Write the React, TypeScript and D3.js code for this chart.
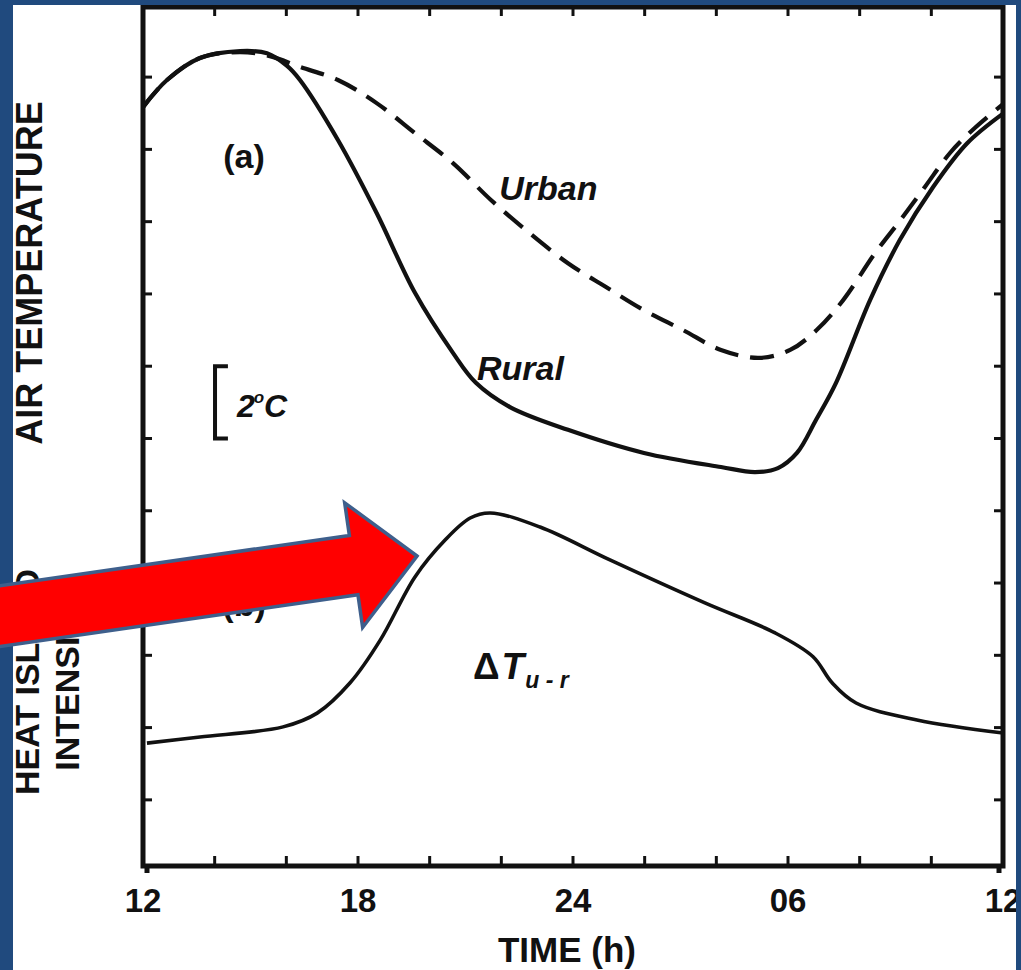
import { useEffect, useRef } from 'react'
import * as d3 from 'd3'

const WIDTH = 1021
const HEIGHT = 970
const BORDER_BLUE = '#204a7e'
const INK = '#111'
const FONT = '"Liberation Sans", Arial, Helvetica, sans-serif'

// plot frame in pixels
const LEFT = 143
const RIGHT = 1003
const TOP = 7
const BOTTOM = 866

// time runs from noon (12) to noon next day (36)
const ruralHours = [12, 12.67, 13.59, 14.71, 15.46, 16.02, 16.38, 17.44, 18.52, 19.59, 20.65, 21.29, 22.24, 23.86, 25.98, 28.13, 29.08, 29.72, 30.25, 30.78, 31.34, 32.29, 33.12, 34.05, 35.0, 36]
const ruralTemps = [19.17, 19.92, 20.53, 20.72, 20.66, 20.31, 19.92, 18.26, 16.24, 14.03, 12.37, 11.54, 10.87, 10.24, 9.6, 9.21, 9.07, 9.18, 9.6, 10.51, 11.54, 13.83, 15.49, 16.96, 18.17, 18.99]

const urbanHours = [12, 12.67, 13.59, 14.7, 15.54, 16.38, 17.44, 18.52, 19.59, 20.65, 21.71, 22.79, 23.86, 24.92, 25.98, 27.07, 28.13, 29.19, 30.06, 30.8, 31.54, 32.43, 33.12, 33.82, 34.52, 35.22, 36]
const urbanTemps = [19.17, 19.92, 20.53, 20.69, 20.58, 20.28, 19.92, 19.28, 18.45, 17.62, 16.6, 15.68, 14.85, 14.19, 13.55, 13.0, 12.45, 12.23, 12.45, 13.0, 13.83, 15.13, 16.02, 16.96, 17.9, 18.6, 19.25]

// heat island intensity, drawn on the same vertical scale
const deltaHours = [12.11, 13.59, 15.91, 16.86, 17.78, 18.62, 19.59, 20.43, 21.13, 21.69, 23.08, 25.03, 27.68, 29.64, 30.7, 31.23, 31.9, 33.6, 36]
const deltaValues = [1.57, 1.74, 2.02, 2.4, 3.24, 4.42, 6.17, 7.19, 7.8, 7.94, 7.55, 6.64, 5.45, 4.62, 3.96, 3.24, 2.68, 2.21, 1.85]

const xTickHours = [12, 14, 16, 18, 20, 22, 24, 26, 28, 30, 32, 34, 36]
const xLabelHours = [12, 18, 24, 30, 36]
const xLabels = ['12', '18', '24', '06', '12']
const yTicks = [0, 2, 4, 6, 8, 10, 12, 14, 16, 18, 20]

function App() {
  const svgRef = useRef<SVGSVGElement | null>(null)

  useEffect(() => {
    if (!svgRef.current) return
    const svg = d3.select(svgRef.current)
    svg.selectAll('*').remove()

    const x = d3.scaleLinear().domain([12, 36]).range([LEFT, RIGHT])
    const y = d3.scaleLinear().domain([-1.83, 21.94]).range([BOTTOM, TOP])

    svg.append('rect').attr('width', WIDTH).attr('height', HEIGHT).attr('fill', '#fff')

    const line = d3.line<[number, number]>()
      .x(d => x(d[0]))
      .y(d => y(d[1]))
      .curve(d3.curveCatmullRom.alpha(0.5))

    const zip = (hs: number[], vs: number[]) => hs.map((h, i) => [h, vs[i]] as [number, number])

    // curves
    svg.append('path')
      .attr('d', line(zip(urbanHours, urbanTemps)))
      .attr('fill', 'none')
      .attr('stroke', INK)
      .attr('stroke-width', 4.2)
      .attr('stroke-dasharray', '24,12')

    svg.append('path')
      .attr('d', line(zip(ruralHours, ruralTemps)))
      .attr('fill', 'none')
      .attr('stroke', INK)
      .attr('stroke-width', 4.2)

    svg.append('path')
      .attr('d', line(zip(deltaHours, deltaValues)))
      .attr('fill', 'none')
      .attr('stroke', INK)
      .attr('stroke-width', 3.6)

    // frame and ticks
    svg.append('rect')
      .attr('x', LEFT).attr('y', TOP)
      .attr('width', RIGHT - LEFT).attr('height', BOTTOM - TOP)
      .attr('fill', 'none').attr('stroke', INK).attr('stroke-width', 5)

    const ticks = svg.append('g').attr('stroke', INK).attr('stroke-width', 3)
    xTickHours.forEach(h => {
      ticks.append('line').attr('x1', x(h)).attr('x2', x(h)).attr('y1', BOTTOM).attr('y2', BOTTOM - 10)
      ticks.append('line').attr('x1', x(h)).attr('x2', x(h)).attr('y1', TOP).attr('y2', TOP + 9)
    })
    yTicks.forEach(v => {
      ticks.append('line').attr('x1', LEFT).attr('x2', LEFT + 9).attr('y1', y(v)).attr('y2', y(v))
      ticks.append('line').attr('x1', RIGHT).attr('x2', RIGHT - 9).attr('y1', y(v)).attr('y2', y(v))
    })
    ;[12, 36].forEach(h => {
      ticks.append('line').attr('x1', x(h) + (h === 12 ? 4 : -4)).attr('x2', x(h) + (h === 12 ? 4 : -4))
        .attr('y1', BOTTOM).attr('y2', BOTTOM + 7).attr('stroke-width', 5)
    })

    // x labels
    svg.append('g')
      .selectAll('text')
      .data(xLabelHours)
      .enter()
      .append('text')
      .attr('x', d => x(d))
      .attr('y', 912)
      .attr('text-anchor', 'middle')
      .attr('font-family', FONT)
      .attr('font-weight', 'bold')
      .attr('font-size', 33)
      .attr('fill', INK)
      .text((_, i) => xLabels[i])

    svg.append('text')
      .attr('x', 567).attr('y', 962)
      .attr('text-anchor', 'middle')
      .attr('font-family', FONT).attr('font-weight', 'bold').attr('font-size', 35)
      .attr('fill', INK)
      .text('TIME (h)')

    // y titles (rotated)
    const vTitle = (tx: number, ty: number, size: number, label: string) =>
      svg.append('text')
        .attr('transform', `translate(${tx},${ty}) rotate(-90)`)
        .attr('text-anchor', 'middle')
        .attr('font-family', FONT).attr('font-weight', 'bold').attr('font-size', size)
        .attr('fill', INK)
        .text(label)
    vTitle(42, 273, 36, 'AIR TEMPERATURE')
    vTitle(39, 682, 34, 'HEAT ISLAND')
    vTitle(79, 682, 34, 'INTENSITY')

    // annotations
    const note = (h: number, v: number, label: string, size: number, italic: boolean, anchor = 'start') =>
      svg.append('text')
        .attr('x', x(h)).attr('y', y(v))
        .attr('text-anchor', anchor)
        .attr('font-family', FONT).attr('font-weight', 'bold').attr('font-size', size)
        .attr('font-style', italic ? 'italic' : 'normal')
        .attr('fill', INK)
        .text(label)

    note(14.82, 17.49, '(a)', 34, false, 'middle')
    note(14.82, 5.09, '(b)', 34, false, 'middle')
    note(21.94, 16.6, 'Urban', 34, true)
    note(21.32, 11.62, 'Rural', 34, true)

    // 2 degree scale bar
    svg.append('path')
      .attr('d', `M${x(14.37)},${y(12)}H${x(14.01)}V${y(10)}H${x(14.37)}`)
      .attr('fill', 'none').attr('stroke', INK).attr('stroke-width', 4)

    const deg = svg.append('text')
      .attr('x', x(14.62)).attr('y', y(10.6))
      .attr('font-family', FONT).attr('font-weight', 'bold').attr('font-style', 'italic')
      .attr('font-size', 32).attr('fill', INK)
    deg.append('tspan').text('2')
    deg.append('tspan').attr('font-size', 17).attr('dy', -14).attr('dx', -1).text('o')
    deg.append('tspan').attr('dy', 14).text('C')

    const dt = svg.append('text')
      .attr('x', x(21.21)).attr('y', y(3.35))
      .attr('font-family', FONT).attr('font-weight', 'bold')
      .attr('font-size', 37).attr('fill', INK)
    dt.append('tspan').text('\u0394')
    dt.append('tspan').attr('font-style', 'italic').attr('dx', 2).text('T')
    dt.append('tspan').attr('font-style', 'italic').attr('font-size', 23).attr('dy', 9).attr('dx', 1).text('u - r')

    // blue slide border on top
    svg.append('path')
      .attr('d', `M0,0H${WIDTH}V${HEIGHT}H0Z M13,5V${HEIGHT}H1016V5Z`)
      .attr('fill', BORDER_BLUE)
      .attr('fill-rule', 'evenodd')

    // red block arrow pointing at the rise of the heat island curve
    svg.append('g')
      .attr('transform', 'translate(417,556) rotate(-8.2)')
      .append('path')
      .attr('d', 'M0,0 L-64,-63 L-64,-30 L-445,-30 L-445,30 L-64,30 L-64,63 Z')
      .attr('fill', '#ff0000')
      .attr('stroke', '#3e5f8c')
      .attr('stroke-width', 3.5)
      .attr('stroke-linejoin', 'miter')
  }, [])

  return (
    <svg
      ref={svgRef}
      width={WIDTH}
      height={HEIGHT}
      style={{ position: 'absolute', left: 0, top: 0, display: 'block' }}
    />
  )
}

export default App
